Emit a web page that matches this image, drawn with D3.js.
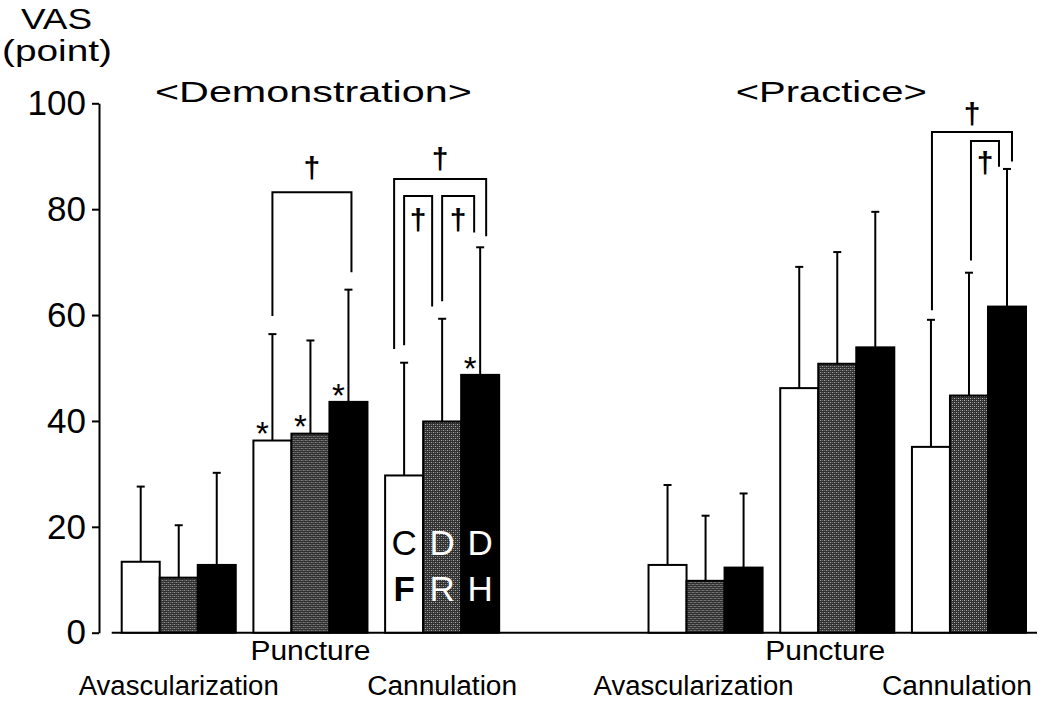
<!DOCTYPE html>
<html>
<head>
<meta charset="utf-8">
<script src="https://cdn.jsdelivr.net/npm/d3@7"></script>
<style>
  html, body { margin: 0; padding: 0; background: #fff; }
  svg { display: block; font-family: "Liberation Sans", Arial, Helvetica, sans-serif; }
</style>
</head>
<body>
<div id="chart"></div>
<script>
// VAS scores, demonstration vs practice, three groups (CF / DR / DH)
var panels = ['Demonstration', 'Practice'];
var procedures = ['Avascularization', 'Puncture', 'Cannulation'];
var groupCodes = ['CF', 'DR', 'DH'];

// means per procedure, one value per group
var demoMean = [[13.4, 10.4, 12.8], [36.3, 37.6, 43.6], [29.7, 39.9, 48.7]];
var demoSD   = [[14.2,  9.9, 17.4], [20.1, 17.6, 21.2], [21.3, 19.4, 24.1]];
var pracMean = [[12.8,  9.8, 12.3], [46.2, 50.8, 53.9], [35.1, 44.8, 61.6]];
var pracSD   = [[15.1, 12.3, 14.0], [22.9, 21.1, 25.6], [24.0, 23.2, 26.0]];

var yTicks = [0, 20, 40, 60, 80, 100];

// significance brackets (values on the VAS scale)
var brackets = [
  {panel: 'Demonstration', proc: 'Puncture',    from: 0, to: 2, top: 83.2, legs: [59.8, 68.1], dagger: 87.8},
  {panel: 'Demonstration', proc: 'Cannulation', from: 0, to: 2, top: 85.7, legs: [53.6, 74.9], dagger: 89.5},
  {panel: 'Demonstration', proc: 'Cannulation', from: 0, to: 1, top: 82.5, legs: [54.3, 61.6], dagger: 78.0},
  {panel: 'Demonstration', proc: 'Cannulation', from: 1, to: 2, top: 82.5, legs: [62.6, 75.6], dagger: 78.0},
  {panel: 'Practice',      proc: 'Cannulation', from: 0, to: 2, top: 94.6, legs: [60.9, 89.0], dagger: 97.9},
  {panel: 'Practice',      proc: 'Cannulation', from: 1, to: 2, top: 92.9, legs: [70.3, 88.0], dagger: 88.8}
];
// * marks vs avascularization
var stars = [
  {panel: 'Demonstration', proc: 'Puncture', g: 0},
  {panel: 'Demonstration', proc: 'Puncture', g: 1},
  {panel: 'Demonstration', proc: 'Puncture', g: 2},
  {panel: 'Demonstration', proc: 'Cannulation', g: 2}
];

var width = 1049, height = 701;
var FONT = '"Liberation Sans", Arial, Helvetica, sans-serif';

var svg = d3.select('#chart').append('svg')
    .attr('width', width)
    .attr('height', height);

// stippled gray fill
var defs = svg.append('defs');
var pat = defs.append('pattern')
    .attr('id', 'stipple')
    .attr('patternUnits', 'userSpaceOnUse')
    .attr('width', 4).attr('height', 4);
pat.append('rect').attr('width', 4).attr('height', 4).attr('fill', '#2e2e2e');
[[0, 0, '#bdbdbd'], [2, 2, '#bdbdbd'], [2, 0, '#767676'], [0, 2, '#767676']].forEach(function(d) {
  pat.append('rect').attr('x', d[0]).attr('y', d[1]).attr('width', 1).attr('height', 1).attr('fill', d[2]);
});

var slots = [];
panels.forEach(function(p, i) {
  if (i > 0) slots.push('gap');
  procedures.forEach(function(c) { slots.push(p + '|' + c); });
});

var x = d3.scaleBand()
    .domain(slots)
    .range([121.7, 1026])
    .paddingInner(0.134)
    .paddingOuter(0);

var xg = d3.scaleBand()
    .domain(groupCodes)
    .range([0, x.bandwidth()])
    .padding(0);

var y = d3.scaleLinear()
    .domain([0, 100])
    .range([632.7, 103.3]);

var fills = ['#fff', 'url(#stipple)', '#000'];

function barCx(panel, proc, g) {
  return x(panel + '|' + proc) + xg(groupCodes[g]) + xg.bandwidth() / 2;
}

// y axis
var yAxis = svg.append('g')
    .attr('transform', 'translate(99,0)')
    .call(d3.axisLeft(y).tickValues(yTicks).tickSize(7).tickSizeOuter(0).tickPadding(6));
yAxis.select('.domain').attr('stroke-width', 2);
yAxis.selectAll('.tick line').attr('stroke-width', 2);
yAxis.selectAll('.tick text')
    .attr('font-family', FONT)
    .attr('font-size', 35)
    .attr('fill', '#000');

// x axis baseline
svg.append('line')
    .attr('x1', x.range()[0] - 10).attr('x2', x.range()[1] + 11)
    .attr('y1', y(0)).attr('y2', y(0))
    .attr('stroke', '#000').attr('stroke-width', 2);

// bars + error bars
panels.forEach(function(panel) {
  var mean = panel === 'Demonstration' ? demoMean : pracMean;
  var sd = panel === 'Demonstration' ? demoSD : pracSD;

  procedures.forEach(function(proc, pi) {
    var g = svg.append('g')
        .attr('transform', 'translate(' + x(panel + '|' + proc) + ',0)');
    var rows = groupCodes.map(function(code, gi) {
      return {code: code, gi: gi, m: mean[pi][gi], sd: sd[pi][gi]};
    });

    g.selectAll('line.err').data(rows).enter().append('line')
        .attr('class', 'err')
        .attr('x1', function(d) { return xg(d.code) + xg.bandwidth() / 2; })
        .attr('x2', function(d) { return xg(d.code) + xg.bandwidth() / 2; })
        .attr('y1', function(d) { return y(d.m); })
        .attr('y2', function(d) { return y(d.m + d.sd); })
        .attr('stroke', '#000').attr('stroke-width', 2);

    g.selectAll('line.cap').data(rows).enter().append('line')
        .attr('class', 'cap')
        .attr('x1', function(d) { return xg(d.code) + xg.bandwidth() / 2 - 4; })
        .attr('x2', function(d) { return xg(d.code) + xg.bandwidth() / 2 + 4; })
        .attr('y1', function(d) { return y(d.m + d.sd); })
        .attr('y2', function(d) { return y(d.m + d.sd); })
        .attr('stroke', '#000').attr('stroke-width', 2);

    g.selectAll('rect').data(rows).enter().append('rect')
        .attr('x', function(d) { return xg(d.code); })
        .attr('width', xg.bandwidth())
        .attr('y', function(d) { return y(d.m); })
        .attr('height', function(d) { return y(0) - y(d.m); })
        .attr('fill', function(d) { return fills[d.gi]; })
        .attr('stroke', '#000').attr('stroke-width', 2);
  });
});

// group codes inside demonstration cannulation bars
groupCodes.forEach(function(code, gi) {
  var cx = barCx('Demonstration', 'Cannulation', gi);
  [y(17.2) + 13, y(8.5) + 13].forEach(function(by, li) {
    svg.append('text')
        .attr('x', cx).attr('y', by)
        .attr('text-anchor', 'middle')
        .attr('font-family', FONT)
        .attr('font-size', 35)
        .attr('fill', gi === 0 ? '#000' : '#fff')
        .attr('font-weight', gi === 0 && li === 1 ? 'bold' : 'normal')
        .text(code[li]);
  });
});

// brackets
var legNudge = [[0, 3], [-10, 6], [0, -10], [0, -6], [1, 5], [2, -8]];
brackets.forEach(function(b, i) {
  var xl = barCx(b.panel, b.proc, b.from) + legNudge[i][0];
  var xr = barCx(b.panel, b.proc, b.to) + legNudge[i][1];
  svg.append('path')
      .attr('d', d3.line()([[xl, y(b.legs[0])], [xl, y(b.top)], [xr, y(b.top)], [xr, y(b.legs[1])]]))
      .attr('fill', 'none')
      .attr('stroke', '#000').attr('stroke-width', 2);
  svg.append('text')
      .attr('x', (xl + xr) / 2)
      .attr('y', y(b.dagger) + 10)
      .attr('text-anchor', 'middle')
      .attr('font-family', FONT)
      .attr('font-size', 30)
      .attr('font-weight', 'bold')
      .attr('fill', '#000')
      .text('\u2020');
});

// asterisks
stars.forEach(function(s) {
  var pi = procedures.indexOf(s.proc);
  var m = (s.panel === 'Demonstration' ? demoMean : pracMean)[pi][s.g];
  svg.append('text')
      .attr('x', barCx(s.panel, s.proc, s.g) - 10)
      .attr('y', y(m + 2.5) + 18)
      .attr('text-anchor', 'middle')
      .attr('font-family', FONT)
      .attr('font-size', 33)
      .attr('fill', '#000')
      .text('*');
});

// category labels, staggered
var labelShift = {Demonstration: 0, Practice: -12};
panels.forEach(function(panel) {
  procedures.forEach(function(proc, pi) {
    var cx = x(panel + '|' + proc) + x.bandwidth() / 2 + labelShift[panel];
    svg.append('text')
        .attr('x', cx)
        .attr('y', pi === 1 ? 660 : 695)
        .attr('text-anchor', 'middle')
        .attr('font-family', FONT)
        .attr('font-size', 27)
        .attr('textLength', [200, 120, 150][pi])
        .attr('lengthAdjust', 'spacingAndGlyphs')
        .attr('fill', '#000')
        .text(proc);
  });
});

// panel titles
var titleLen = {Demonstration: 317, Practice: 191};
var titleShift = {Demonstration: 3, Practice: -6};
panels.forEach(function(panel) {
  svg.append('text')
      .attr('x', x(panel + '|Puncture') + x.bandwidth() / 2 + titleShift[panel])
      .attr('y', 102)
      .attr('text-anchor', 'middle')
      .attr('font-family', FONT)
      .attr('font-size', 29)
      .attr('textLength', titleLen[panel])
      .attr('lengthAdjust', 'spacingAndGlyphs')
      .attr('fill', '#000')
      .text('<' + panel + '>');
});

// y axis title
svg.append('text')
    .attr('x', 21).attr('y', 29)
    .attr('font-family', FONT).attr('font-size', 30)
    .attr('textLength', 71).attr('lengthAdjust', 'spacingAndGlyphs')
    .text('VAS');
svg.append('text')
    .attr('x', 2).attr('y', 61)
    .attr('font-family', FONT).attr('font-size', 30)
    .attr('textLength', 110).attr('lengthAdjust', 'spacingAndGlyphs')
    .text('(point)');
</script>
</body>
</html>
